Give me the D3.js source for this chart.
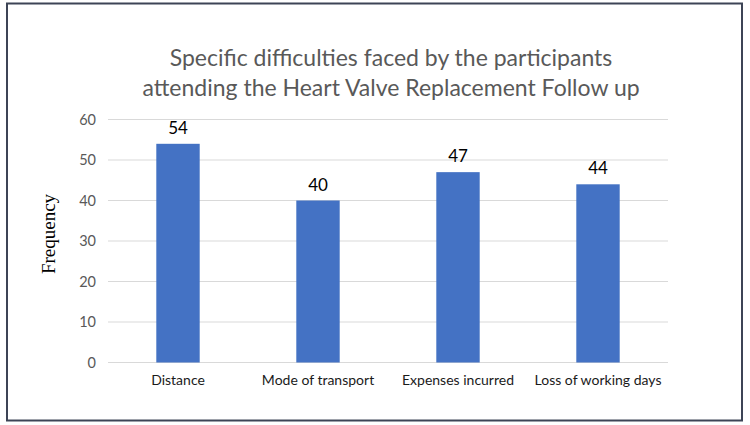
<!DOCTYPE html>
<html><head><meta charset="utf-8">
<script src="https://cdn.jsdelivr.net/npm/d3@7"></script>
<style>body{margin:0;background:#fff}svg{display:block}</style>
</head><body>
<svg id="c" width="750" height="425"></svg>
<script>
const categories = ["Distance", "Mode of transport", "Expenses incurred", "Loss of working days"];
const values = [54, 40, 47, 44];
const yTicks = [0, 10, 20, 30, 40, 50, 60];
const titleLines = ["Specific difficulties faced by the participants", "attending the Heart Valve Replacement Follow up"];
const yLabel = "Frequency";

const svg = d3.select("#c");
svg.append("rect").attr("x", 7).attr("y", 3.5).attr("width", 735).attr("height", 417)
  .attr("fill", "#fff").attr("stroke", "#3d4456").attr("stroke-width", 2);

const x = d3.scaleBand().domain(categories).range([108, 668]).paddingInner(0.69).paddingOuter(0.345);
const y = d3.scaleLinear().domain([0, 60]).range([362.5, 119.5]);

// gridlines
svg.append("g").selectAll("line").data(yTicks).join("line")
  .attr("x1", 108).attr("x2", 668)
  .attr("y1", d => y(d)).attr("y2", d => y(d))
  .attr("stroke", "#d9d9d9").attr("stroke-width", 1);

// y axis labels
const yAxis = d3.axisLeft(y).tickValues(yTicks).tickSize(0).tickPadding(0);
const ga = svg.append("g").attr("transform", "translate(96,0)").call(yAxis);
ga.select(".domain").remove();
ga.selectAll("text").attr("font-family", "Lato, 'Open Sans', sans-serif").attr("font-size", 14.5).attr("fill", "#595959");

// bars
svg.append("g").selectAll("rect").data(values).join("rect")
  .attr("x", (d, i) => x(categories[i])).attr("width", x.bandwidth())
  .attr("y", d => y(d)).attr("height", d => y(0) - y(d))
  .attr("fill", "#4472c4");

// value labels
svg.append("g").selectAll("text").data(values).join("text")
  .attr("x", (d, i) => x(categories[i]) + x.bandwidth() / 2)
  .attr("y", d => y(d) - 10)
  .attr("text-anchor", "middle").attr("font-family", "Lato, sans-serif").attr("font-size", 17)
  .attr("fill", "#000").text(d => d);

// x axis labels
const xAxis = d3.axisBottom(x).tickSize(0).tickPadding(0);
const gx = svg.append("g").attr("transform", "translate(0,375)").call(xAxis);
gx.select(".domain").remove();
gx.selectAll("text").attr("font-family", "Lato, sans-serif").attr("font-size", 14).attr("fill", "#1a1a1a").attr("dy", "0.71em");

// y title
svg.append("text").attr("transform", "translate(48,234) rotate(-90)")
  .attr("text-anchor", "middle").attr("dy", "0.35em")
  .attr("font-family", "'Liberation Serif', serif").attr("font-size", 19).attr("fill", "#000").text(yLabel);

// title
svg.append("g").selectAll("text").data(titleLines).join("text")
  .attr("x", 391).attr("y", (d, i) => 66 + i * 30)
  .attr("text-anchor", "middle").attr("font-family", "Lato, sans-serif").attr("font-size", 23)
  .attr("fill", "#595959").text(d => d);
</script>
</body></html>
